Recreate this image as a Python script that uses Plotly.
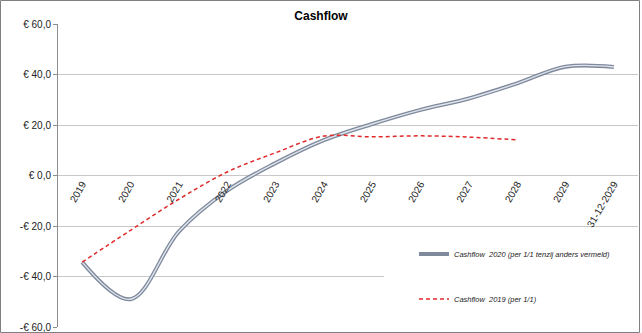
import plotly.graph_objects as go

# Categories and cashflow values (x € 1.000)
categories = ["2019", "2020", "2021", "2022", "2023", "2024", "2025",
              "2026", "2027", "2028", "2029", "31-12-2029"]
cashflow_2020 = [-34.3, -49.0, -22.2, -6.0, 4.9, 14.0, 20.4, 26.0, 30.5, 36.5, 43.1, 43.0]
cashflow_2019 = [-34.3, -21.7, -9.4, 1.4, 9.0, 15.6, 15.3, 15.7, 15.2, 14.1]

y_ticks = [-60, -40, -20, 0, 20, 40, 60]
y_tick_labels = ["-€ 60,0", "-€ 40,0", "-€ 20,0", "€ 0,0", "€ 20,0", "€ 40,0", "€ 60,0"]

name_2020 = "Cashflow  2020 (per 1/1 tenzij anders vermeld)"
name_2019 = "Cashflow  2019 (per 1/1)"

W, H = 642, 333
ML, MR, MT, MB = 58, 4, 24, 6
PW, PH = W - ML - MR, H - MT - MB


def px_x(x):
    return (x - ML) / PW


def px_y(y):
    return (H - MB - y) / PH


FONT = "Liberation Sans, Arial, sans-serif"

fig = go.Figure()

# Cashflow 2020: a double-stroked smooth line (grey-blue outer, light core)
fig.add_trace(go.Scatter(
    x=categories, y=cashflow_2020, mode="lines", name=name_2020,
    line=dict(color="#7e899c", width=4, shape="spline", smoothing=1),
    legend="legend",
))
fig.add_trace(go.Scatter(
    x=categories, y=cashflow_2020, mode="lines", showlegend=False,
    line=dict(color="#dfe4ec", width=1.4, shape="spline", smoothing=1),
    hoverinfo="skip",
))
# Cashflow 2019: red dashed smooth line
fig.add_trace(go.Scatter(
    x=categories[:len(cashflow_2019)], y=cashflow_2019, mode="lines", name=name_2019,
    line=dict(color="#e02a2a", width=1.5, dash="4px,3px", shape="spline", smoothing=1),
    legend="legend2",
))

legend_common = dict(
    bgcolor="rgba(0,0,0,0)", borderwidth=0,
    font=dict(family=FONT, size=7.5, color="#222222", style="italic"),
    xanchor="left", yanchor="middle", itemwidth=30,
)

fig.update_layout(
    width=W, height=H,
    margin=dict(l=ML, r=MR, t=MT, b=MB, pad=0, autoexpand=False),
    paper_bgcolor="white", plot_bgcolor="white",
    font=dict(family=FONT, size=10, color="#222222"),
    title=dict(text="<b>Cashflow</b>", font=dict(family=FONT, size=12, color="#000000"),
               x=0.5, xref="container", xanchor="center",
               y=1 - 16 / H, yref="container", yanchor="middle"),
    xaxis=dict(type="category", range=[-0.5, len(categories) - 0.5],
               anchor="free", position=0.5, showline=False, showgrid=False,
               zeroline=False, ticks="", tickangle=-60, automargin=False,
               tickfont=dict(family=FONT, size=10, color="#222222")),
    xaxis2=dict(overlaying="x", anchor="y", side="bottom", range=[-0.5, len(categories) - 0.5],
                showline=True, linecolor="#8c8c8c", linewidth=2, automargin=False,
                showticklabels=False, showgrid=False, zeroline=False, ticks=""),
    yaxis=dict(range=[-60, 60], tickvals=y_ticks, ticktext=y_tick_labels,
               showgrid=True, gridcolor="#c8c8c8", gridwidth=1, zeroline=False,
               showline=True, linecolor="#8c8c8c", linewidth=1, automargin=False,
               ticks="outside", ticklen=4, tickcolor="#8c8c8c",
               tickfont=dict(family=FONT, size=10, color="#222222")),
    legend=dict(x=px_x(414), y=px_y(254), **legend_common),
    legend2=dict(x=px_x(414), y=px_y(299), **legend_common),
    showlegend=True,
    shapes=[
        # white backdrop behind the legend entries
        dict(type="rect", xref="paper", yref="paper",
             x0=px_x(384), x1=1.0, y0=px_y(318), y1=px_y(234),
             fillcolor="white", line=dict(width=0), layer="above"),
        # chart border
        dict(type="rect", xref="paper", yref="paper",
             x0=px_x(0.5), x1=px_x(639.5), y0=px_y(332.5), y1=px_y(0.5),
             line=dict(color="#808080", width=1), fillcolor="rgba(0,0,0,0)", layer="above"),
    ],
)

fig.write_html("out.html")
